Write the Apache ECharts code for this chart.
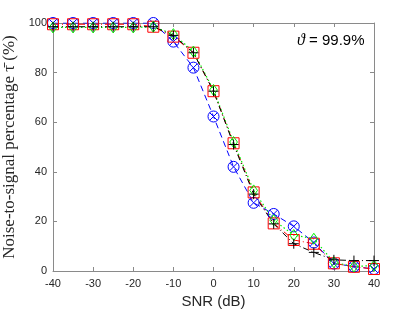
<!DOCTYPE html>
<html><head><meta charset="utf-8">
<script src="https://cdn.jsdelivr.net/npm/echarts@6/dist/echarts.min.js"></script>
<style>html,body{margin:0;padding:0;background:#fff}#c{width:415px;height:312px}</style>
</head><body><div id="c"></div>
<script>
var snr = [-40,-35,-30,-25,-20,-15,-10,-5,0,5,10,15,20,25,30,35,40];
var blueCircle = [100,100,100,100,100,100,92.5,82,62.3,42,27.5,23,18,11.5,3,1.8,0.8];
var redSquare  = [99.5,99.5,99.5,99.5,99.5,98.5,94.5,88,72.5,51.5,31.7,19.2,12.5,11,3.1,1.7,0.8];
var greenDiamond = [98.2,98.2,98.2,98.2,98.2,98.5,95.5,88.5,73,52,32.5,20.5,14.5,13,3.5,1.8,2.2];
var blackPlus  = [98.5,98.5,98.5,98.5,98.5,98.5,95,88,72.5,51,31,19,11,7.5,4.5,4.2,4.2];
var yTicks = [0,20,40,60,80,100];
var xTicks = [-40,-30,-20,-10,0,10,20,30,40];

var circleX = 'path://M10,0 A10,10 0 1,1 -10,0 A10,10 0 1,1 10,0 Z M-7,-7 L7,7 M7,-7 L-7,7';
var plusPath = 'path://M0,-10 L0,10 M-10,0 L10,0';
var diamondPath = 'path://M0,-10 L7,0 L0,10 L-7,0 Z';
var squarePath = 'path://M-10,-10 L10,-10 L10,10 L-10,10 Z';

function pairs(vals){ return snr.map(function(x,i){ return [x, vals[i]]; }); }
function mkSeries(vals, color, sym, size, dash, w){
  return {
    type:'line', data:pairs(vals), symbol:sym, symbolSize:size, symbolKeepAspect:true,
    showSymbol:true, animation:false,
    lineStyle:{color:color, width:w||1, type:dash},
    itemStyle:{color:'rgba(0,0,0,0)', borderColor:color, borderWidth:1}
  };
}
var axisCol = '#8a8a8a', txt = '#262626';
var chart = echarts.init(document.getElementById('c'), null, {renderer:'canvas'});
chart.setOption({
  animation:false,
  grid:{left:53, right:41, top:23, bottom:41, show:false, containLabel:false, outerBoundsMode:'none'},
  xAxis:[{
    type:'value', min:-40, max:40, interval:10,
    axisLine:{show:true, onZero:false, lineStyle:{color:axisCol}},
    axisTick:{show:true, inside:true, length:4, lineStyle:{color:axisCol}},
    axisLabel:{color:txt, fontFamily:'Liberation Sans', fontSize:11, margin:7},
    splitLine:{show:false},
    name:'SNR (dB)', nameLocation:'middle', nameGap:22,
    nameTextStyle:{color:txt, fontFamily:'Liberation Sans', fontSize:15}
  },{
    type:'value', min:-40, max:40, interval:10, position:'top',
    axisLine:{show:true, onZero:false, lineStyle:{color:axisCol}},
    axisTick:{show:true, inside:true, length:4, lineStyle:{color:axisCol}},
    axisLabel:{show:false}, splitLine:{show:false}
  }],
  yAxis:[{
    type:'value', min:0, max:100, interval:20,
    axisLine:{show:true, onZero:false, lineStyle:{color:axisCol}},
    axisTick:{show:true, inside:true, length:4, lineStyle:{color:axisCol}},
    axisLabel:{color:txt, fontFamily:'Liberation Sans', fontSize:11, margin:6},
    splitLine:{show:false},
    name:'Noise-to-signal percentage τ\u0304 (%)', nameLocation:'middle', nameGap:28, nameRotate:90,
    nameTextStyle:{color:txt, fontFamily:'Liberation Serif', fontSize:17}
  },{
    type:'value', min:0, max:100, interval:20, position:'right',
    axisLine:{show:true, onZero:false, lineStyle:{color:axisCol}},
    axisTick:{show:true, inside:true, length:4, lineStyle:{color:axisCol}},
    axisLabel:{show:false}, splitLine:{show:false}
  }],
  series:[
    mkSeries(blueCircle, '#0000ff', circleX, 11, [6,4], 1),
    mkSeries(redSquare, '#ff0000', squarePath, 11, [6,3,1,3], 1),
    mkSeries(greenDiamond, '#00ee00', diamondPath, 11, [1.5,2.5], 1.2),
    mkSeries(blackPlus, '#000000', plusPath, 10, [6,3,1,3], 1)
  ],
  graphic:[{
    type:'text', left:297, top:33,
    style:{
      text:'{a|ϑ} = 99.9%',
      rich:{a:{fontFamily:'Liberation Serif', fontStyle:'italic', fontSize:16, fill:'#000'}},
      fontFamily:'Liberation Sans', fontSize:15, fill:'#000'
    }
  }]
});
</script></body></html>
